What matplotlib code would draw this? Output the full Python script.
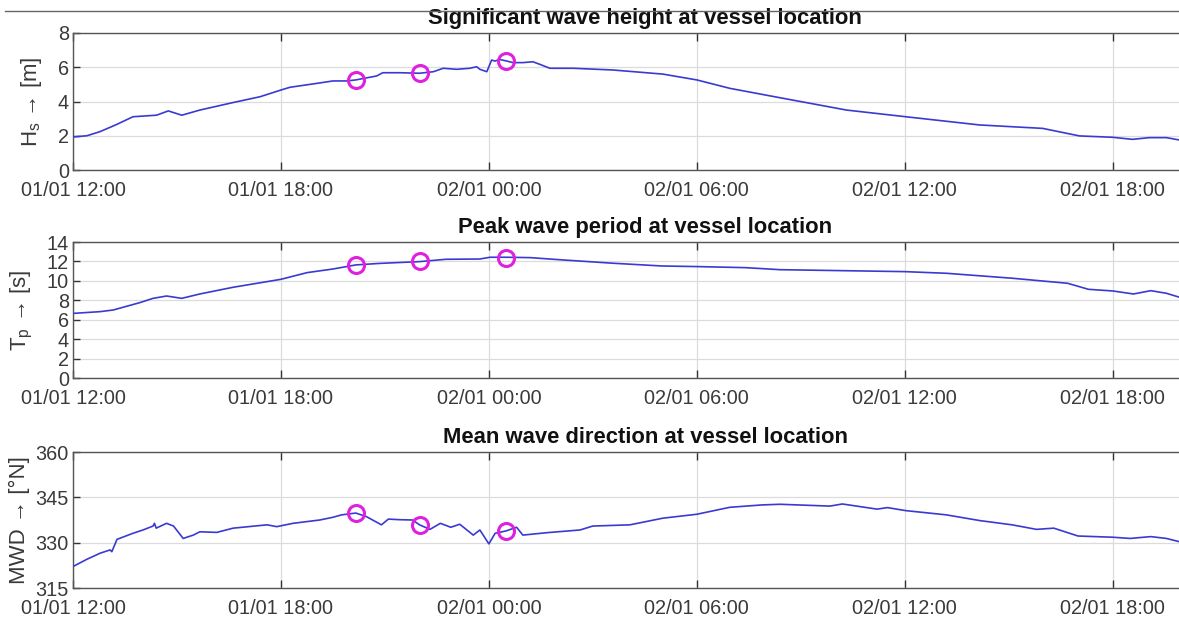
import pandas as pd
import matplotlib
matplotlib.use('Agg')
import matplotlib.pyplot as plt
import matplotlib.dates as mdates
from matplotlib.lines import Line2D

plt.rcParams['font.family'] = ['Liberation Sans', 'DejaVu Sans']
plt.rcParams['mathtext.fontset'] = 'custom'
plt.rcParams['mathtext.rm'] = 'Liberation Sans'

START = pd.Timestamp('2019-01-01 12:00')

# hours after 01/01 12:00 and values
hs_hours = [0, 0.4, 0.78, 1.25, 1.73, 2.41, 2.75, 3.14, 3.66, 4.6, 5.4, 6.0, 6.26, 7.04, 7.5, 7.9,
            8.16, 8.76, 8.94, 9.43, 10.0, 10.4, 10.68, 11.07, 11.45, 11.65, 11.74, 11.94,
            12.08, 12.18, 12.3, 12.5, 12.7, 12.98, 13.27, 13.47, 13.76, 14.43, 15.58,
            17.02, 18.0, 18.95, 20.4, 22.32, 24.03, 26.16, 27.98, 29.04, 30.0, 30.57,
            31.06, 31.55, 31.93]
hs_values = [1.93, 2.0, 2.24, 2.65, 3.11, 3.2, 3.45, 3.2, 3.5, 3.93, 4.28, 4.67, 4.83, 5.06, 5.2, 5.2,
             5.26, 5.49, 5.68, 5.68, 5.65, 5.74, 5.94, 5.88, 5.94, 6.03, 5.88, 5.74,
             6.42, 6.36, 6.46, 6.37, 6.27, 6.27, 6.32, 6.17, 5.94, 5.94, 5.84,
             5.6, 5.26, 4.77, 4.22, 3.5, 3.11, 2.63, 2.43, 1.99, 1.91, 1.79,
             1.89, 1.89, 1.75]

tp_hours = [0, 0.78, 1.16, 1.93, 2.31, 2.7, 3.14, 3.66, 4.62, 5.6, 6.0, 6.76, 7.5, 8.16,
            8.86, 10.0, 10.76, 11.74, 12.03, 12.5, 13.2, 14.15, 15.6, 17.0, 18.0, 19.4,
            20.4, 24.0, 25.2, 27.1, 28.7, 29.3, 30.0, 30.6, 31.1, 31.55, 31.93]
tp_values = [6.65, 6.83, 7.0, 7.76, 8.2, 8.44, 8.2, 8.65, 9.34, 9.92, 10.16, 10.85, 11.22, 11.64,
             11.8, 11.98, 12.22, 12.25, 12.43, 12.43, 12.39, 12.15, 11.81, 11.53, 11.47, 11.36,
             11.15, 10.95, 10.78, 10.27, 9.75, 9.13, 8.96, 8.65, 8.99, 8.72, 8.31]

mwd_hours = [0, 0.4, 0.78, 1.07, 1.12, 1.27, 1.73, 2.02, 2.31, 2.35, 2.4, 2.7, 2.9, 3.18,
             3.47, 3.66, 4.15, 4.62, 5.6, 5.88, 6.35, 7.12, 7.5, 7.75, 8.16, 8.47, 8.9,
             9.1, 9.43, 9.8, 10.0, 10.3, 10.6, 10.9, 11.16, 11.55, 11.74, 12.0, 12.18,
             12.5, 12.8, 12.98, 13.67, 14.63, 15.0, 16.07, 17.02, 18.0, 18.95, 19.9, 20.4,
             21.84, 22.2, 23.2, 23.5, 24.03, 25.2, 26.17, 27.1, 27.8, 28.3, 29.0, 30.0,
             30.5, 31.1, 31.55, 31.93]
mwd_values = [322.1, 324.5, 326.5, 327.6, 327.0, 331.1, 333.1, 334.2, 335.5, 336.4, 334.8, 336.4, 335.5, 331.4,
              332.5, 333.6, 333.4, 334.8, 335.9, 335.3, 336.4, 337.5, 338.4, 339.2, 339.8, 338.6, 335.9,
              337.8, 337.6, 337.5, 335.9, 334.4, 336.4, 335.1, 336.1, 332.5, 334.2, 329.6, 333.1,
              333.9, 335.1, 332.5, 333.3, 334.2, 335.5, 335.9, 338.1, 339.4, 341.7, 342.5, 342.7,
              342.1, 342.8, 341.1, 341.6, 340.6, 339.2, 337.3, 335.9, 334.4, 334.8, 332.2, 331.8,
              331.4, 332.0, 331.4, 330.3]

# highlighted moments
mark_hours = [8.16, 10.0, 12.5]
hs_marks = [5.26, 5.67, 6.37]
tp_marks = [11.64, 12.02, 12.4]
mwd_marks = [339.8, 335.9, 333.9]

titles = ['Significant wave height at vessel location',
          'Peak wave period at vessel location',
          'Mean wave direction at vessel location']
ylabels = ['H$_\\mathregular{s}$ \u2192 [m]', 'T$_\\mathregular{p}$ \u2192 [s]', 'MWD \u2192 [\u00b0N]']
yticks = [[0, 2, 4, 6, 8], [0, 2, 4, 6, 8, 10, 12, 14], [315, 330, 345, 360]]
label_x = [-0.026, -0.034, -0.039]


def to_time(hours):
    return START + pd.to_timedelta(hours, unit='h')


fig = plt.figure(figsize=(11.79, 6.19), dpi=100)
W, H = 1179.0, 619.0
boxes = [(33, 170), (242, 378), (452, 588)]
series = [(hs_hours, hs_values, hs_marks), (tp_hours, tp_values, tp_marks),
          (mwd_hours, mwd_values, mwd_marks)]

for i, (top, bot) in enumerate(boxes):
    ax = fig.add_axes([73 / W, 1 - bot / H, 1109 / W, (bot - top) / H])
    hours, values, marks = series[i]
    ax.plot(to_time(hours), values, color='#3a3ad2', lw=1.2, zorder=3)
    ax.plot(to_time(mark_hours), marks, 'o', mfc='none', mec='#e020e0', mew=2.2, ms=11.5, zorder=4)

    ax.set_xlim(START, START + pd.Timedelta(hours=32))
    ax.set_ylim(yticks[i][0], yticks[i][-1])
    ax.set_yticks(yticks[i])
    ax.xaxis.set_major_locator(mdates.HourLocator(byhour=[0, 6, 12, 18]))
    ax.xaxis.set_major_formatter(mdates.DateFormatter('%d/%m %H:%M'))
    ax.grid(True, color='#dcdcdc', lw=0.9)
    ax.tick_params(axis='x', direction='in', top=True, length=6, width=1, color='#333333',
                   labelsize=14.3, labelcolor='#3a3a3a', pad=8)
    ax.tick_params(axis='y', direction='in', right=False, length=5, width=1, color='#333333',
                   labelsize=14.3, labelcolor='#3a3a3a', pad=3)
    for s in ax.spines.values():
        s.set_color('#555555')
        s.set_linewidth(1.0)
    ax.text(0.516, 1.03, titles[i], transform=ax.transAxes, ha='center', va='bottom',
            fontsize=15.8, fontweight='bold', color='#111111')
    ax.set_ylabel(ylabels[i], fontsize=16, color='#3a3a3a')
    ax.yaxis.set_label_coords(label_x[i], 0.5)

fig.add_artist(Line2D([5 / W, 1.0], [1 - 11 / H, 1 - 11 / H], color='#666666', lw=1.0))

fig.savefig('out.png', dpi=100)
